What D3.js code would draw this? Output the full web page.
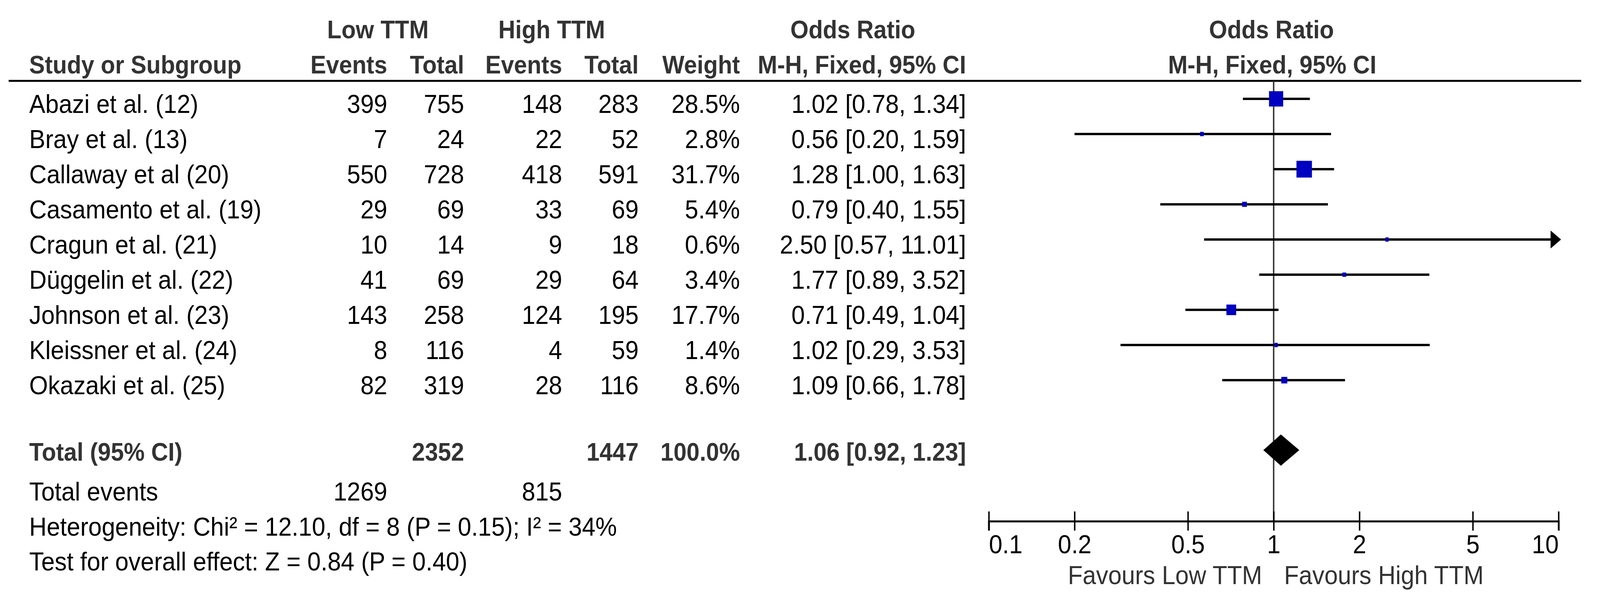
<!DOCTYPE html>
<html>
<head>
<meta charset="utf-8">
<script src="https://cdn.jsdelivr.net/npm/d3@7"></script>
<style>
  html, body { margin: 0; padding: 0; background: #fff; overflow: hidden; }
  svg { display: block; }
  text { font-family: "Liberation Sans", Arial, sans-serif; }
</style>
</head>
<body>
<div id="chart"></div>
<script>
// study data
var studies = ["Abazi et al. (12)", "Bray et al. (13)", "Callaway et al (20)", "Casamento et al. (19)",
  "Cragun et al. (21)", "Düggelin et al. (22)", "Johnson et al. (23)", "Kleissner et al. (24)", "Okazaki et al. (25)"]
var lowEvents = [399, 7, 550, 29, 10, 41, 143, 8, 82]
var lowTotal = [755, 24, 728, 69, 14, 69, 258, 116, 319]
var highEvents = [148, 22, 418, 33, 9, 29, 124, 4, 28]
var highTotal = [283, 52, 591, 69, 18, 64, 195, 59, 116]
var weights = [28.5, 2.8, 31.7, 5.4, 0.6, 3.4, 17.7, 1.4, 8.6]
var oddsRatio = [1.02, 0.56, 1.28, 0.79, 2.50, 1.77, 0.71, 1.02, 1.09]
var ciLow = [0.78, 0.20, 1.00, 0.40, 0.57, 0.89, 0.49, 0.29, 0.66]
var ciHigh = [1.34, 1.59, 1.63, 1.55, 11.01, 3.52, 1.04, 3.53, 1.78]

// pooled
var totalLow = 2352, totalHigh = 1447
var eventsLow = 1269, eventsHigh = 815
var pooled = [1.06, 0.92, 1.23]

var tickValues = [0.1, 0.2, 0.5, 1, 2, 5, 10]
var heterogeneity = "Heterogeneity: Chi² = 12.10, df = 8 (P = 0.15); I² = 34%"
var overall = "Test for overall effect: Z = 0.84 (P = 0.40)"

var w = 4437, h = 1551
var fs = 67

// stretch the drawing over the whole viewport (it is narrower than 4437)
var svg = d3.select("#chart").append("svg")
  .attr("viewBox", "0 0 " + w + " " + h)
  .attr("preserveAspectRatio", "none")
  .style("width", "100vw")
  .style("height", "100vh")

svg.append("rect").attr("width", w).attr("height", h).attr("fill", "#fff")

var x = d3.scaleLog().domain([0.1, 10]).range([2742, 4322])
var y = d3.scaleLinear().domain([0, 1]).range([253, 343])
var boxSize = d3.scaleLinear().domain([0, 30]).range([7, 41])

var col = { lowEv: 1074, lowTot: 1287, highEv: 1559, highTot: 1771, weight: 2052, or: 2679 }

function fmtCI(o, l, u) {
  return o.toFixed(2) + " [" + l.toFixed(2) + ", " + u.toFixed(2) + "]"
}

function txt(g, s, xx, yy, anchor, bold, color) {
  return g.append("text")
    .attr("x", xx).attr("y", yy)
    .attr("text-anchor", anchor || "start")
    .attr("font-size", bold ? 65 : fs)
    .attr("font-weight", bold ? "bold" : "normal")
    .attr("fill", color || "#000")
    .text(s)
}

// headers
var head = svg.append("g")
txt(head, "Low TTM", 1048, 98, "middle", true, "#333")
txt(head, "High TTM", 1530, 98, "middle", true, "#333")
txt(head, "Odds Ratio", 2365, 98, "middle", true, "#333")
txt(head, "Odds Ratio", 3526, 98, "middle", true, "#333")
txt(head, "Study or Subgroup", 81, 188, "start", true, "#333")
txt(head, "Events", col.lowEv, 188, "end", true, "#333")
txt(head, "Total", col.lowTot, 188, "end", true, "#333")
txt(head, "Events", col.highEv, 188, "end", true, "#333")
txt(head, "Total", col.highTot, 188, "end", true, "#333")
txt(head, "Weight", col.weight, 188, "end", true, "#333")
txt(head, "M-H, Fixed, 95% CI", col.or, 188, "end", true, "#333")
txt(head, "M-H, Fixed, 95% CI", 3528, 188, "middle", true, "#333")

svg.append("line")
  .attr("x1", 24).attr("x2", 4385)
  .attr("y1", 207).attr("y2", 207)
  .attr("stroke", "#000").attr("stroke-width", 5)

// reference line at OR = 1
svg.append("line")
  .attr("x1", x(1)).attr("x2", x(1))
  .attr("y1", 207).attr("y2", 1334)
  .attr("stroke", "#333").attr("stroke-width", 4)

// study rows
var rows = svg.append("g")
studies.forEach(function(s, i) {
  var ty = y(i) + 36
  txt(rows, s, 81, ty)
  txt(rows, lowEvents[i], col.lowEv, ty, "end")
  txt(rows, lowTotal[i], col.lowTot, ty, "end")
  txt(rows, highEvents[i], col.highEv, ty, "end")
  txt(rows, highTotal[i], col.highTot, ty, "end")
  txt(rows, weights[i].toFixed(1) + "%", col.weight, ty, "end")
  txt(rows, fmtCI(oddsRatio[i], ciLow[i], ciHigh[i]), col.or, ty, "end")
})

var marks = svg.append("g")
studies.forEach(function(s, i) {
  var hi = Math.min(ciHigh[i], 10)
  var clipped = hi < ciHigh[i]
  marks.append("line")
    .attr("x1", x(ciLow[i])).attr("x2", clipped ? x(hi) - 18 : x(hi))
    .attr("y1", y(i)).attr("y2", y(i))
    .attr("stroke", "#000").attr("stroke-width", 6)
  if (clipped) {
    // CI runs past the axis: arrow at the end
    var ax = x(hi)
    marks.append("path")
      .attr("d", "M" + (ax - 22) + "," + (y(i) - 23) + "L" + (ax + 7) + "," + y(i) + "L" + (ax - 22) + "," + (y(i) + 23) + "Z")
      .attr("fill", "#000")
  }
  var bw = Math.max(9, boxSize(weights[i]))
  var bh = Math.max(11, boxSize(weights[i]))
  marks.append("rect")
    .attr("x", x(oddsRatio[i]) - bw / 2)
    .attr("y", y(i) - bh / 2)
    .attr("width", bw).attr("height", bh)
    .attr("fill", "#0000c0")
})

// totals
var tot = svg.append("g")
txt(tot, "Total (95% CI)", 81, 1179, "start", true, "#333")
txt(tot, totalLow, col.lowTot, 1179, "end", true, "#333")
txt(tot, totalHigh, col.highTot, 1179, "end", true, "#333")
txt(tot, "100.0%", col.weight, 1179, "end", true, "#333")
txt(tot, fmtCI(pooled[0], pooled[1], pooled[2]), col.or, 1179, "end", true, "#333")

var dy = 1152
tot.append("path")
  .attr("d", "M" + x(pooled[1]) + "," + dy + "L" + x(pooled[0]) + "," + (dy - 40) +
    "L" + x(pooled[2]) + "," + dy + "L" + x(pooled[0]) + "," + (dy + 40) + "Z")
  .attr("fill", "#000")

txt(tot, "Total events", 81, 1281)
txt(tot, eventsLow, col.lowEv, 1281, "end")
txt(tot, eventsHigh, col.highEv, 1281, "end")
txt(tot, heterogeneity, 81, 1371)
txt(tot, overall, 81, 1460)

// axis
var axis = svg.append("g")
  .attr("transform", "translate(0,1334)")
  .call(d3.axisBottom(x).tickValues(tickValues).tickSizeOuter(0).tickSize(24)
    .tickFormat(function(d) { return String(d) }))

axis.select(".domain").attr("stroke", "#000").attr("stroke-width", 5)
axis.selectAll(".tick line").attr("y1", -25).attr("stroke", "#000").attr("stroke-width", 4)
axis.selectAll(".tick text")
  .attr("y", 82).attr("dy", 0)
  .attr("font-size", fs)
  .attr("font-family", "Liberation Sans, Arial, sans-serif")
  .attr("fill", "#000")
  .attr("text-anchor", function(d, i) { return i == 0 ? "start" : (i == tickValues.length - 1 ? "end" : "middle") })

txt(svg, "Favours Low TTM", x(1) - 32, 1495, "end", false, "#333")
txt(svg, "Favours High TTM", x(1) + 29, 1495, "start", false, "#333")
</script>
</body>
</html>
